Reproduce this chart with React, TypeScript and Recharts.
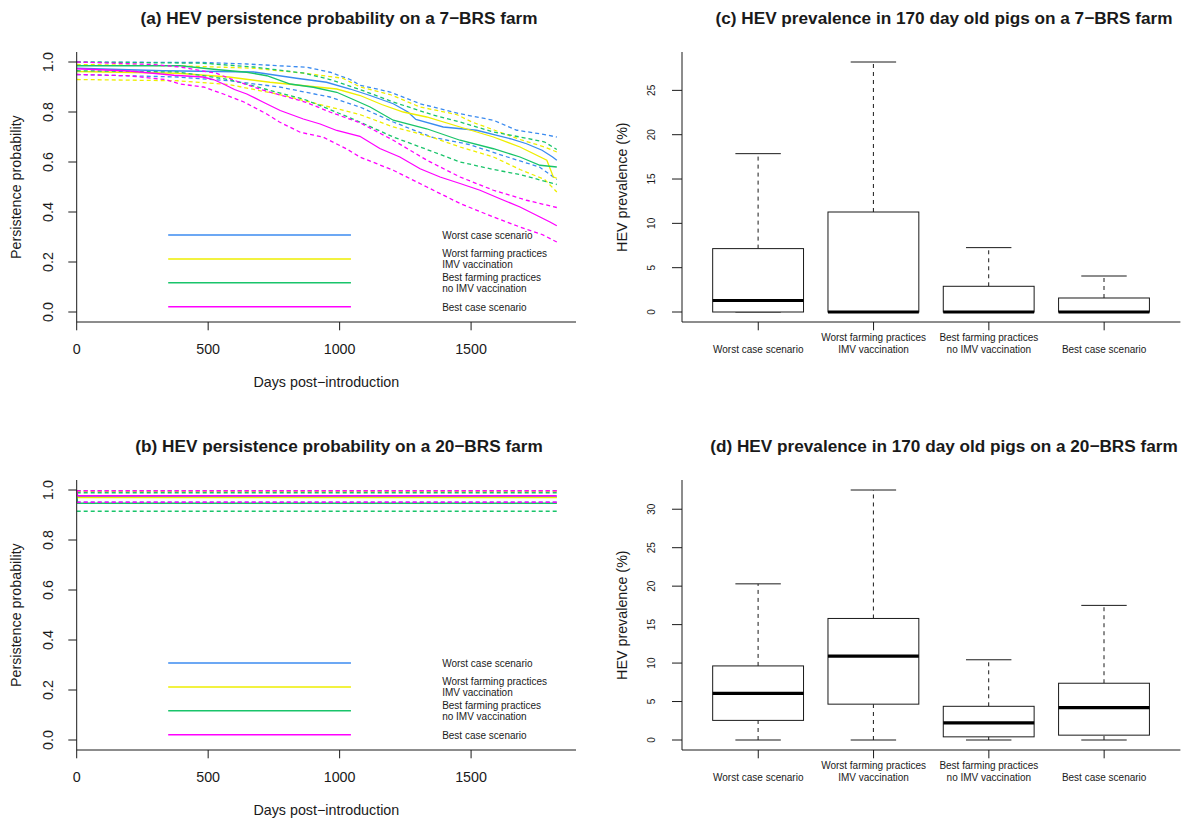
import React from 'react';
import { LineChart, ComposedChart, Line, Bar, XAxis, YAxis, ReferenceLine, ReferenceDot } from 'recharts';

type Pt = [number, number];

const FONT = '"Liberation Sans", Arial, Helvetica, sans-serif';
const INK = '#1a1a1a';
const C_WORST = '#3b8bf0';
const C_WFARM = '#eeee00';
const C_BFARM = '#19c46a';
const C_BEST = '#ff00ff';

// ---------- Panel (a): 7-BRS farm, persistence probability [day, probability] ----------
const a_worstCase: Pt[] = [[0, 0.975], [330, 0.965], [674, 0.96], [771, 0.945], [836, 0.935], [950, 0.919], [1040, 0.892], [1116, 0.866], [1204, 0.833], [1260, 0.8], [1290, 0.77], [1394, 0.74], [1521, 0.727], [1649, 0.693], [1711, 0.673], [1770, 0.647], [1810, 0.62], [1826, 0.607]];
const a_worstCaseLo: Pt[] = [[0, 0.95], [385, 0.94], [578, 0.925], [771, 0.9], [963, 0.86], [1077, 0.82], [1204, 0.76], [1349, 0.7], [1493, 0.67], [1638, 0.62], [1760, 0.58], [1826, 0.53]];
const a_worstCaseHi: Pt[] = [[0, 1.0], [480, 0.998], [647, 0.992], [875, 0.979], [964, 0.959], [1040, 0.93], [1078, 0.907], [1192, 0.88], [1306, 0.833], [1458, 0.793], [1585, 0.767], [1674, 0.727], [1762, 0.713], [1826, 0.7]];

const a_worstFarm: Pt[] = [[0, 0.962], [385, 0.955], [578, 0.94], [735, 0.919], [867, 0.905], [989, 0.892], [1078, 0.866], [1160, 0.83], [1242, 0.8], [1331, 0.78], [1458, 0.74], [1585, 0.7], [1686, 0.66], [1788, 0.607], [1813, 0.54], [1826, 0.535]];
const a_worstFarmLo: Pt[] = [[0, 0.93], [385, 0.925], [578, 0.91], [771, 0.87], [963, 0.82], [1077, 0.79], [1204, 0.74], [1349, 0.7], [1458, 0.66], [1585, 0.62], [1686, 0.57], [1780, 0.53], [1826, 0.48]];
const a_worstFarmHi: Pt[] = [[0, 0.99], [385, 0.985], [674, 0.975], [867, 0.955], [1012, 0.935], [1078, 0.9], [1192, 0.87], [1306, 0.82], [1445, 0.79], [1503, 0.76], [1590, 0.727], [1686, 0.69], [1780, 0.66], [1826, 0.64]];

const a_bestFarm: Pt[] = [[0, 0.985], [393, 0.985], [530, 0.97], [647, 0.959], [723, 0.945], [812, 0.912], [900, 0.899], [989, 0.879], [1052, 0.85], [1116, 0.82], [1204, 0.767], [1331, 0.733], [1458, 0.687], [1585, 0.653], [1686, 0.62], [1762, 0.587], [1826, 0.58]];
const a_bestFarmLo: Pt[] = [[0, 0.965], [385, 0.96], [578, 0.93], [723, 0.89], [867, 0.85], [963, 0.81], [1077, 0.76], [1204, 0.7], [1332, 0.65], [1458, 0.6], [1585, 0.57], [1686, 0.55], [1826, 0.51]];
const a_bestFarmHi: Pt[] = [[0, 1.0], [482, 0.995], [674, 0.98], [867, 0.955], [963, 0.93], [1077, 0.89], [1204, 0.84], [1349, 0.79], [1458, 0.76], [1585, 0.72], [1686, 0.7], [1780, 0.68], [1826, 0.65]];

const a_bestCase: Pt[] = [[0, 0.973], [200, 0.964], [370, 0.947], [480, 0.94], [520, 0.93], [558, 0.912], [600, 0.89], [647, 0.872], [710, 0.839], [774, 0.806], [862, 0.772], [926, 0.752], [989, 0.726], [1077, 0.703], [1153, 0.654], [1229, 0.62], [1306, 0.573], [1382, 0.54], [1458, 0.514], [1534, 0.487], [1610, 0.453], [1686, 0.42], [1762, 0.38], [1800, 0.36], [1826, 0.345]];
const a_bestCaseLo: Pt[] = [[0, 0.95], [193, 0.945], [337, 0.93], [393, 0.912], [482, 0.9], [558, 0.872], [636, 0.84], [723, 0.792], [771, 0.76], [850, 0.719], [938, 0.699], [1027, 0.652], [1077, 0.62], [1204, 0.567], [1332, 0.5], [1458, 0.434], [1585, 0.38], [1686, 0.34], [1770, 0.31], [1826, 0.28]];
const a_bestCaseHi: Pt[] = [[0, 1.0], [289, 0.99], [393, 0.98], [530, 0.955], [617, 0.92], [700, 0.89], [872, 0.839], [963, 0.8], [1077, 0.757], [1204, 0.687], [1332, 0.607], [1458, 0.54], [1585, 0.487], [1711, 0.447], [1826, 0.418]];

// ---------- Panel (b): 20-BRS farm ----------
const b_worstCase: Pt[] = [[0, 1.0], [4, 0.973], [1826, 0.973]];
const b_worstCaseLo: Pt[] = [[0, 0.951], [1826, 0.951]];
const b_worstCaseHi: Pt[] = [[0, 0.997], [1826, 0.997]];
const b_worstFarm: Pt[] = [[0, 1.0], [4, 0.97], [1826, 0.97]];
const b_worstFarmLo: Pt[] = [[0, 0.947], [1826, 0.947]];
const b_worstFarmHi: Pt[] = [[0, 0.995], [1826, 0.995]];
const b_bestFarm: Pt[] = [[0, 0.98], [4, 0.947], [1826, 0.947]];
const b_bestFarmLo: Pt[] = [[0, 0.915], [1826, 0.915]];
const b_bestFarmHi: Pt[] = [[0, 0.989], [1826, 0.989]];
const b_bestCase: Pt[] = [[0, 1.0], [4, 0.977], [1826, 0.977]];
const b_bestCaseLo: Pt[] = [[0, 0.951], [1826, 0.951]];
const b_bestCaseHi: Pt[] = [[0, 0.997], [1826, 0.997]];

const DAY_TICKS = [0, 500, 1000, 1500];
const PROB_TICKS = [0, 0.2, 0.4, 0.6, 0.8, 1.0];
const DAY_DOMAIN: [number, number] = [0, 1899];
const PROB_DOMAIN: [number, number] = [-0.04, 1.04];

const LEGEND_NAMES = ['Worst case scenario', 'Worst farming practices', 'IMV vaccination', 'Best farming practices', 'no IMV vaccination', 'Best case scenario'];
const LEGEND_TEXT_P = [0.307, 0.233, 0.19, 0.14, 0.093, 0.02];
const LEGEND_TEXT_DAY = 1388;
const LEGEND_LINE_DAYS: [number, number] = [348, 1043];
const LEGEND_LINE_P = [0.308, 0.212, 0.117, 0.021];
const LEGEND_COLORS = [C_WORST, C_WFARM, C_BFARM, C_BEST];

// ---------- Panels (c), (d): HEV prevalence boxplots (%) ----------
const CATEGORIES = ['Worst case scenario', 'Worst farming practices\nIMV vaccination', 'Best farming practices\nno IMV vaccination', 'Best case scenario'];

const c_min = [0, 0, 0, 0];
const c_q1 = [0, 0, 0, 0];
const c_median = [1.3, 0, 0, 0];
const c_q3 = [7.15, 11.28, 2.9, 1.58];
const c_max = [17.86, 28.2, 7.26, 4.06];
const c_ticks = [0, 5, 10, 15, 20, 25];
const c_domain: [number, number] = [-1.128, 29.328];

const d_min = [0, 0, 0, 0];
const d_q1 = [2.55, 4.66, 0.41, 0.63];
const d_median = [6.05, 10.9, 2.22, 4.2];
const d_q3 = [9.63, 15.8, 4.38, 7.38];
const d_max = [20.3, 32.5, 10.43, 17.5];
const d_ticks = [0, 5, 10, 15, 20, 25, 30];
const d_domain: [number, number] = [-1.3, 33.8];

type Curve = { pts: Pt[]; color: string; dashed?: boolean };

const toRows = (pts: Pt[]) => pts.map(([day, p]) => ({ day, p }));

const PW = 592;
const PH = 428;

function RotYTick(props: any) {
  const { x, y, payload, fs, fmt } = props;
  return (
    <text x={x} y={y} transform={`rotate(-90 ${x} ${y})`} textAnchor="middle" fontSize={fs} fontFamily={FONT} fill={INK}>
      {fmt(payload.value)}
    </text>
  );
}

function DayTick(props: any) {
  const { x, y, payload } = props;
  return (
    <text x={x} y={y + 23.5} textAnchor="middle" fontSize={14.3} fontFamily={FONT} fill={INK}>
      {String(payload.value)}
    </text>
  );
}

function CatTick(props: any) {
  const { x, y, payload } = props;
  const lines = String(payload.value).split('\n');
  const n = lines.length;
  return (
    <text textAnchor="middle" fontSize={10} fontFamily={FONT} fill={INK}>
      {lines.map((ln, i) => (
        <tspan key={i} x={x} y={y + 22.5 - (n - 1 - i) * 12.3}>
          {ln}
        </tspan>
      ))}
    </text>
  );
}

function BoxShape(props: any) {
  const { x, y, width, height, payload } = props;
  const top = Math.min(y, y + height);
  const bot = Math.max(y, y + height);
  const lo = payload.min;
  const hi = payload.max;
  const py = (v: number) => (hi === lo ? bot : bot - ((v - lo) / (hi - lo)) * (bot - top));
  const cx = x + width / 2;
  const bw = width * 0.79;
  const cw = bw * 0.5;
  const yq1 = py(payload.q1);
  const yq3 = py(payload.q3);
  const ymed = py(payload.median);
  return (
    <g>
      <line x1={cx} x2={cx} y1={yq3} y2={top} stroke={INK} strokeWidth={1} strokeDasharray="4 4" />
      <line x1={cx} x2={cx} y1={bot} y2={yq1} stroke={INK} strokeWidth={1} strokeDasharray="4 4" />
      <line x1={cx - cw / 2} x2={cx + cw / 2} y1={top} y2={top} stroke={INK} strokeWidth={1} />
      <line x1={cx - cw / 2} x2={cx + cw / 2} y1={bot} y2={bot} stroke={INK} strokeWidth={1} />
      <rect x={cx - bw / 2} y={yq3} width={bw} height={Math.max(0, yq1 - yq3)} fill="#fff" stroke={INK} strokeWidth={1} />
      <line x1={cx - bw / 2} x2={cx + bw / 2} y1={ymed} y2={ymed} stroke="#000" strokeWidth={3.2} />
    </g>
  );
}

const titleStyle = (cx: number, cy: number): React.CSSProperties => ({
  position: 'absolute',
  left: cx - 320,
  width: 640,
  top: cy - 8.6,
  textAlign: 'center',
  fontSize: 17.2,
  lineHeight: '17.2px',
  fontWeight: 'bold',
  fontFamily: FONT,
  color: INK,
  whiteSpace: 'nowrap',
});

const axisTitleStyle = (cx: number, cy: number, rotate: boolean): React.CSSProperties => ({
  position: 'absolute',
  left: cx - 150,
  width: 300,
  top: cy - 7.15,
  textAlign: 'center',
  fontSize: 14.3,
  lineHeight: '14.3px',
  fontFamily: FONT,
  color: INK,
  whiteSpace: 'nowrap',
  transform: rotate ? 'rotate(-90deg)' : undefined,
});

function PersistencePanel({ left, top, title, curves }: { left: number; top: number; title: string; curves: Curve[] }) {
  const L = 76.7;
  const R = 576;
  const T = 52;
  const B = 322;
  const XH = 80;
  return (
    <div style={{ position: 'absolute', left, top, width: PW, height: PH }}>
      <LineChart width={PW} height={PH} margin={{ top: T, right: PW - R, bottom: PH - B - XH, left: 0 }}>
        <XAxis dataKey="day" type="number" domain={DAY_DOMAIN} ticks={DAY_TICKS} allowDataOverflow interval={0} height={XH} tickSize={8.3} tickMargin={0} axisLine={{ stroke: INK }} tickLine={{ stroke: INK }} tick={(p: any) => <DayTick {...p} />} />
        <XAxis xAxisId="top" orientation="top" dataKey="day" type="number" domain={DAY_DOMAIN} allowDataOverflow height={0} tick={false} tickLine={false} axisLine={{ stroke: INK }} />
        <YAxis type="number" domain={PROB_DOMAIN} ticks={PROB_TICKS} allowDataOverflow interval={0} width={L} tickSize={8.4} tickMargin={14.9} axisLine={{ stroke: INK }} tickLine={{ stroke: INK }} tick={(p: any) => <RotYTick {...p} fs={14.3} fmt={(v: number) => v.toFixed(1)} />} />
        <YAxis yAxisId="right" orientation="right" type="number" domain={PROB_DOMAIN} allowDataOverflow width={0} tick={false} tickLine={false} axisLine={{ stroke: INK }} />
        {curves.map((c, i) => (
          <Line key={i} data={toRows(c.pts)} dataKey="p" type="linear" stroke={c.color} strokeWidth={1.3} strokeDasharray={c.dashed ? '4 3' : undefined} dot={false} activeDot={false} isAnimationActive={false} />
        ))}
        {LEGEND_LINE_P.map((p, i) => (
          <ReferenceLine key={'ll' + i} segment={[{ x: LEGEND_LINE_DAYS[0], y: p }, { x: LEGEND_LINE_DAYS[1], y: p }]} stroke={LEGEND_COLORS[i]} strokeWidth={1.6} />
        ))}
        {LEGEND_NAMES.map((name, i) => (
          <ReferenceDot key={'lt' + i} x={LEGEND_TEXT_DAY} y={LEGEND_TEXT_P[i]} r={0.5} fill="none" stroke="none" label={{ value: name, position: 'right', offset: 0, fontSize: 10, fill: INK, fontFamily: FONT }} />
        ))}
      </LineChart>
      <div style={titleStyle(339, 18.3)}>{title}</div>
      <div style={axisTitleStyle((L + R) / 2, B + 60, false)}>Days post−introduction</div>
      <div style={axisTitleStyle(16, (T + B) / 2, true)}>Persistence probability</div>
    </div>
  );
}

function BoxPanel({ left, top, title, mins, q1s, medians, q3s, maxs, ticks, domain }: { left: number; top: number; title: string; mins: number[]; q1s: number[]; medians: number[]; q3s: number[]; maxs: number[]; ticks: number[]; domain: [number, number] }) {
  const L = 90;
  const R = 588.4;
  const T = 52;
  const B = 322;
  const XH = 60;
  const rows = CATEGORIES.map((cat, i) => ({ cat, min: mins[i], q1: q1s[i], median: medians[i], q3: q3s[i], max: maxs[i] }));
  return (
    <div style={{ position: 'absolute', left, top, width: PW, height: PH }}>
      <ComposedChart width={PW} height={PH} data={rows} margin={{ top: T, right: PW - R, bottom: PH - B - XH, left: 0 }} barCategoryGap="0%" barGap={0}>
        <XAxis dataKey="cat" type="category" padding={{ left: 18.6, right: 18.6 }} interval={0} height={XH} tickSize={8.3} tickMargin={0} axisLine={{ stroke: INK }} tickLine={{ stroke: INK }} tick={(p: any) => <CatTick {...p} />} />
        <XAxis xAxisId="top" orientation="top" dataKey="cat" type="category" height={0} tick={false} tickLine={false} axisLine={{ stroke: INK }} />
        <YAxis type="number" domain={domain} ticks={ticks} allowDataOverflow interval={0} width={L} tickSize={10} tickMargin={16.7} axisLine={{ stroke: INK }} tickLine={{ stroke: INK }} tick={(p: any) => <RotYTick {...p} fs={10} fmt={(v: number) => String(v)} />} />
        <YAxis yAxisId="right" orientation="right" type="number" domain={domain} allowDataOverflow width={0} tick={false} tickLine={false} axisLine={{ stroke: INK }} />
        <Bar dataKey={(d: any) => [d.min, d.max]} shape={(p: any) => <BoxShape {...p} />} isAnimationActive={false} />
      </ComposedChart>
      <div style={titleStyle(352, 18.3)}>{title}</div>
      <div style={axisTitleStyle(30, (T + B) / 2, true)}>HEV prevalence (%)</div>
    </div>
  );
}

const curvesA: Curve[] = [
  { pts: a_worstCase, color: C_WORST },
  { pts: a_worstCaseLo, color: C_WORST, dashed: true },
  { pts: a_worstCaseHi, color: C_WORST, dashed: true },
  { pts: a_worstFarm, color: C_WFARM },
  { pts: a_worstFarmLo, color: C_WFARM, dashed: true },
  { pts: a_worstFarmHi, color: C_WFARM, dashed: true },
  { pts: a_bestFarm, color: C_BFARM },
  { pts: a_bestFarmLo, color: C_BFARM, dashed: true },
  { pts: a_bestFarmHi, color: C_BFARM, dashed: true },
  { pts: a_bestCase, color: C_BEST },
  { pts: a_bestCaseLo, color: C_BEST, dashed: true },
  { pts: a_bestCaseHi, color: C_BEST, dashed: true },
];

const curvesB: Curve[] = [
  { pts: b_worstCase, color: C_WORST },
  { pts: b_worstCaseLo, color: C_WORST, dashed: true },
  { pts: b_worstCaseHi, color: C_WORST, dashed: true },
  { pts: b_worstFarm, color: C_WFARM },
  { pts: b_worstFarmLo, color: C_WFARM, dashed: true },
  { pts: b_worstFarmHi, color: C_WFARM, dashed: true },
  { pts: b_bestFarm, color: C_BFARM },
  { pts: b_bestFarmLo, color: C_BFARM, dashed: true },
  { pts: b_bestFarmHi, color: C_BFARM, dashed: true },
  { pts: b_bestCase, color: C_BEST },
  { pts: b_bestCaseLo, color: C_BEST, dashed: true },
  { pts: b_bestCaseHi, color: C_BEST, dashed: true },
];

export default function App() {
  return (
    <div style={{ position: 'absolute', left: 0, top: 0, width: 1184, height: 821, background: '#fff', fontFamily: FONT, overflow: 'hidden' }}>
      <PersistencePanel left={0} top={0} title="(a) HEV persistence probability on a 7−BRS farm" curves={curvesA} />
      <PersistencePanel left={0} top={428} title="(b) HEV persistence probability on a 20−BRS farm" curves={curvesB} />
      <BoxPanel left={592} top={0} title="(c) HEV prevalence in 170 day old pigs on a 7−BRS farm" mins={c_min} q1s={c_q1} medians={c_median} q3s={c_q3} maxs={c_max} ticks={c_ticks} domain={c_domain} />
      <BoxPanel left={592} top={428} title="(d) HEV prevalence in 170 day old pigs on a 20−BRS farm" mins={d_min} q1s={d_q1} medians={d_median} q3s={d_q3} maxs={d_max} ticks={d_ticks} domain={d_domain} />
    </div>
  );
}
